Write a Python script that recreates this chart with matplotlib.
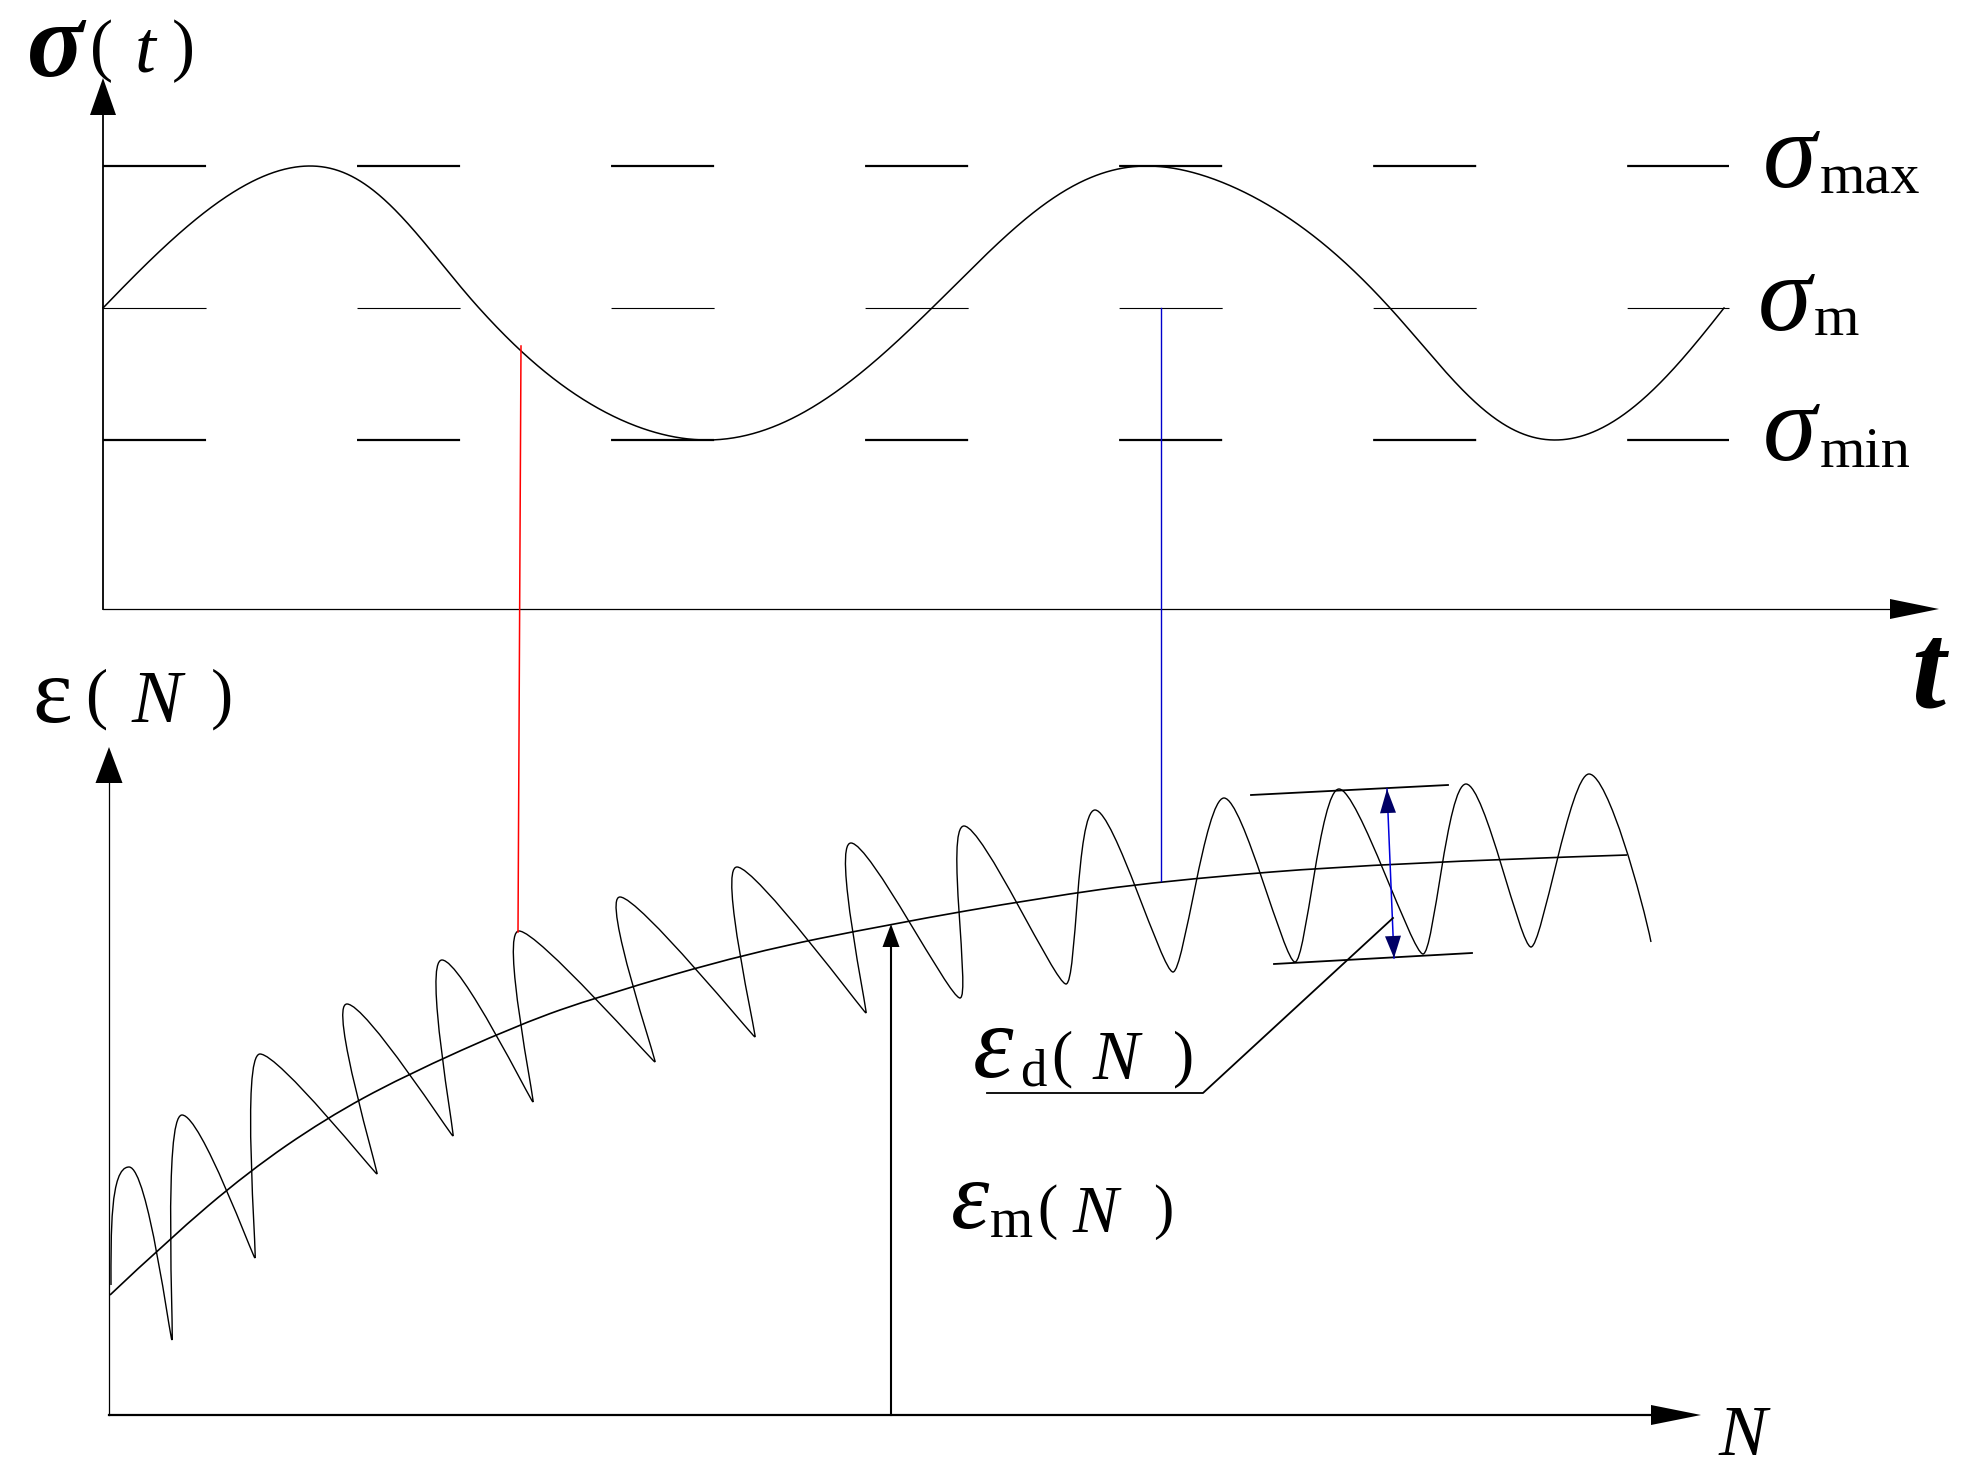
import numpy as np
import matplotlib
matplotlib.use('Agg')
import matplotlib.pyplot as plt
from matplotlib.patches import Polygon, PathPatch
from matplotlib.path import Path

plt.rcParams['font.family'] = ['Liberation Serif', 'DejaVu Serif']
plt.rcParams['lines.scale_dashes'] = False

# ---- data (picture pixel coordinates, y grows downwards) ----
# top panel: stress levels and the quarter-period knots of sigma(t)
sig_max, sig_m, sig_min = 166, 308, 440
sine_knot_x = [103, 310, 479, 707, 932, 1147, 1390, 1555, 1724]

# bottom panel: mean strain curve
mean_x = [110, 168, 248, 325, 402, 520, 600, 748, 891, 1040, 1161, 1382, 1627]
mean_y = [1295, 1240, 1172, 1119, 1077, 1024, 996, 953, 924, 898, 881, 863, 855]

# oscillating strain: start, peak, trough, peak, ..., end
osc_x = [111, 129, 172, 182, 255, 260, 377, 347, 453, 442, 533, 519, 655, 620, 755,
         737, 866, 851, 960, 964, 1066, 1095, 1173, 1224, 1295, 1339, 1423, 1466, 1531,
         1589, 1651]
osc_y = [1285, 1167, 1340, 1115, 1258, 1054, 1174, 1004, 1136, 960, 1102, 931, 1062, 897, 1037,
         867, 1013, 843, 998, 826, 984, 810, 972, 798, 962, 789, 954, 784, 947,
         774, 942]

W, H = 1962, 1479
fig = plt.figure(figsize=(W / 100, H / 100), dpi=100)
ax = fig.add_axes([0, 0, 1, 1])
ax.set_xlim(0, W)
ax.set_ylim(H, 0)
ax.axis('off')


def head(tip, base, half, color='black'):
    tip = np.array(tip, float)
    base = np.array(base, float)
    d = tip - base
    n = np.array([-d[1], d[0]]) / np.hypot(*d)
    pts = [tip, base + n * half, base - n * half]
    ax.add_patch(Polygon(pts, closed=True, color=color, lw=0, zorder=5))


# ---- top panel ----
ax.plot([103, 103], [115, 609], color='black', lw=1.3)
head((103, 78), (103, 115), 13)
ax.plot([103, 1890], [609, 609], color='black', lw=0.9)
head((1939, 609), (1890, 609), 10)

dash = (0, (74.2, 108.7))
ax.plot([103, 1729], [sig_max, sig_max], color='black', lw=1.6, linestyle=dash)
ax.plot([103, 1729], [sig_m, sig_m], color='black', lw=0.8, linestyle=dash)
ax.plot([103, 1729], [sig_min, sig_min], color='black', lw=1.6, linestyle=dash)

# phase runs through the knots with a smooth (Hermite) profile
kx = np.array(sine_knot_x, float)
kp = np.arange(len(kx)) * np.pi / 2
seg = np.diff(kp) / np.diff(kx)
slope = np.concatenate([[seg[0]], (seg[:-1] + seg[1:]) / 2, [seg[-1]]])
xs = np.linspace(kx[0], kx[-1], 1500)
idx = np.clip(np.searchsorted(kx, xs, side='right') - 1, 0, len(kx) - 2)
h = kx[idx + 1] - kx[idx]
u = (xs - kx[idx]) / h
phase = ((2 * u**3 - 3 * u**2 + 1) * kp[idx] + (u**3 - 2 * u**2 + u) * h * slope[idx]
         + (-2 * u**3 + 3 * u**2) * kp[idx + 1] + (u**3 - u**2) * h * slope[idx + 1])
s = np.sin(phase)
a0 = ((sig_m - sig_max) + (sig_min - sig_m)) / 2
a1 = ((sig_m - sig_max) - (sig_min - sig_m)) / 2
ys = sig_m - a0 * s - a1 * s**2
ax.plot(xs, ys, color='black', lw=1.1)

# ---- connecting lines ----
ax.plot([521, 518], [346, 932], color='#ff0000', lw=1.1)
ax.plot([1161, 1161], [sig_m, 881], color='#0000cc', lw=1.0)

# ---- bottom panel ----
ax.plot([109, 109], [783, 1415], color='black', lw=0.9)
head((109, 747), (109, 783), 13.5)
ax.plot([109, 1651], [1415, 1415], color='black', lw=1.6)
head((1701, 1415), (1651, 1415), 10)

# mean curve, smoothed through midpoints
mx, my = np.array(mean_x, float), np.array(mean_y, float)
verts = [(mx[0], my[0])]
codes = [Path.MOVETO]
for i in range(1, len(mx) - 1):
    verts += [(mx[i], my[i]), ((mx[i] + mx[i + 1]) / 2, (my[i] + my[i + 1]) / 2)]
    codes += [Path.CURVE3, Path.CURVE3]
verts[-1] = (mx[-1], my[-1])
ax.add_patch(PathPatch(Path(verts, codes), fill=False, lw=1.2, edgecolor='black'))

# oscillating curve: cubic pieces with level tangents at every peak and trough
ox, oy = np.array(osc_x, float), np.array(osc_y, float)
last = len(ox) - 1


def handle(x, k):
    if k % 2 == 1:
        return 19
    return 2 if x < 900 else 11


verts = [(ox[0], oy[0])]
codes = [Path.MOVETO]
for i in range(last):
    a, b = (ox[i], oy[i]), (ox[i + 1], oy[i + 1])
    c1 = (a[0], a[1] - 50) if i == 0 else (a[0] + handle(a[0], i), a[1])
    j = i + 1
    c2 = (b[0] - 8, b[1] - 40) if j == last else (b[0] - handle(b[0], j), b[1])
    verts += [c1, c2, b]
    codes += [Path.CURVE4] * 3
ax.add_patch(PathPatch(Path(verts, codes), fill=False, lw=1.0, edgecolor='black'))

# arrow up to the mean curve
ax.plot([891, 891], [947, 1415], color='black', lw=1.5)
head((891, 924), (891, 947), 8.5)

# amplitude envelope and blue double arrow
ax.plot([1251, 1448], [795, 785], color='black', lw=1.3)
ax.plot([1274, 1472], [964, 953], color='black', lw=1.3)
ax.plot([1387, 1394], [789, 958], color='#0000dd', lw=1.1)
head((1387, 789), (1388, 813), 8, color='#000066')
head((1394, 958), (1393, 936), 8, color='#000066')

# leader line for eps_d
ax.plot([1393, 1203, 987], [918, 1093, 1093], color='black', lw=1.3)


# ---- texts ----
def txt(x, y, s, size, style='normal', weight='normal'):
    ax.text(x, y, s, fontsize=size, style=style, weight=weight,
            ha='center', va='baseline', color='black')


# sigma(t)
txt(55, 76, 'σ', 76, 'italic', 'bold')
txt(102, 68, '(', 50)
txt(145, 72, 't', 54, 'italic')
txt(183, 68, ')', 50)

txt(1790, 187, 'σ', 78, 'italic')
txt(1870, 194, 'max', 42)
txt(1785, 330, 'σ', 78, 'italic')
txt(1836, 335, 'm', 42)
txt(1790, 460, 'σ', 78, 'italic')
txt(1865, 467, 'min', 42)

txt(1928, 706, 't', 88, 'italic', 'bold')

# eps(N)
txt(52, 722, 'ε', 68)
txt(96, 716, '(', 48)
txt(157, 722, 'N', 54, 'italic')
txt(222, 716, ')', 48)

txt(1743, 1455, 'N', 52, 'italic')

# eps_d(N)
txt(993, 1077, 'ε', 74, 'italic')
txt(1033, 1086, 'd', 38)
txt(1062, 1074, '(', 46)
txt(1116, 1079, 'N', 50, 'italic')
txt(1184, 1074, ')', 46)

# eps_m(N)
txt(970, 1228, 'ε', 70, 'italic')
txt(1011, 1237, 'm', 40)
txt(1047, 1227, '(', 44)
txt(1095, 1232, 'N', 49, 'italic')
txt(1163, 1227, ')', 44)

fig.savefig('out.png', dpi=100, facecolor='white')
